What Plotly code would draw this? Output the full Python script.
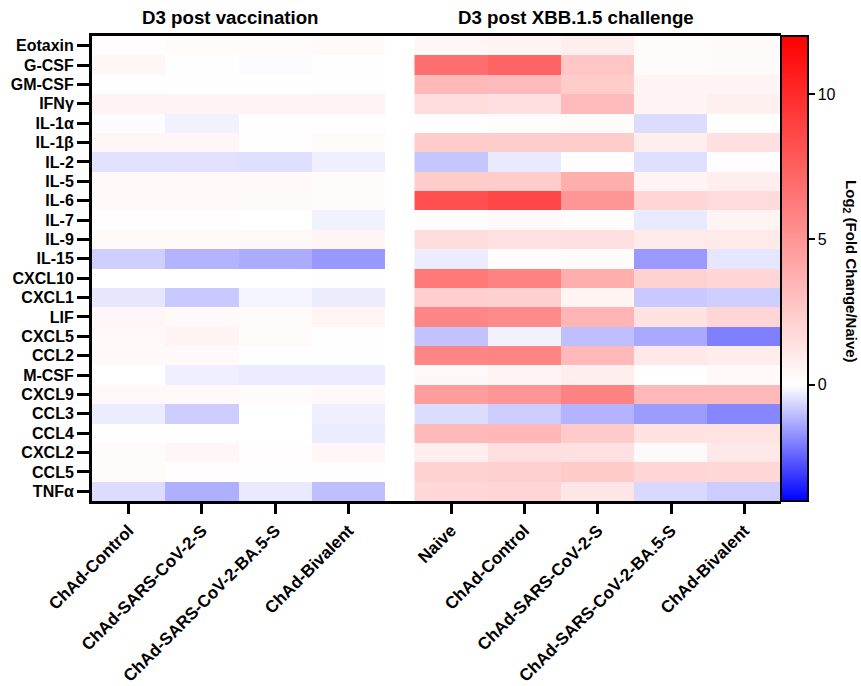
import plotly.graph_objects as go

cytokines = ["Eotaxin", "G-CSF", "GM-CSF", "IFNγ", "IL-1α", "IL-1β", "IL-2", "IL-5", "IL-6",
             "IL-7", "IL-9", "IL-15", "CXCL10", "CXCL1", "LIF", "CXCL5", "CCL2", "M-CSF",
             "CXCL9", "CCL3", "CCL4", "CXCL2", "CCL5", "TNFα"]

vac_groups = ["ChAd-Control", "ChAd-SARS-CoV-2-S", "ChAd-SARS-CoV-2-BA.5-S", "ChAd-Bivalent"]
chal_groups = ["Naive", "ChAd-Control", "ChAd-SARS-CoV-2-S", "ChAd-SARS-CoV-2-BA.5-S", "ChAd-Bivalent"]

# D3 post vaccination (log2 fold change / naive), one list per group, rows in cytokine order
vac_control = [0.1, 0.4, 0.05, 0.5, -0.05, 0.4, -0.45, 0.3, 0.35, 0.1, 0.3, -0.75, 0.0, -0.4,
               0.4, 0.3, 0.3, 0.02, 0.35, -0.3, 0.05, 0.2, 0.2, -0.55]
vac_sars = [0.2, 0.03, 0.02, 0.5, -0.2, 0.4, -0.45, 0.35, 0.35, 0.1, 0.3, -1.2, 0.0, -0.85,
            0.3, 0.5, 0.3, -0.25, 0.3, -0.8, 0.05, 0.4, 0.1, -1.25]
vac_ba5 = [0.2, -0.05, 0.0, 0.5, 0.05, 0.1, -0.5, 0.3, 0.25, 0.0, 0.35, -1.3, 0.0, -0.15,
           0.2, 0.2, 0.05, -0.3, 0.2, 0.0, 0.0, 0.1, 0.05, -0.35]
vac_biv = [0.25, 0.05, 0.05, 0.5, 0.05, 0.2, -0.25, 0.2, 0.2, -0.2, 0.45, -1.6, 0.05, -0.3,
           0.45, 0.05, 0.05, -0.3, 0.35, -0.25, -0.3, 0.4, 0.05, -1.0]

# D3 post XBB.1.5 challenge
chal_naive = [0.4, 6.8, 3.3, 1.6, 0.1, 2.4, -0.9, 2.4, 8.3, 0.1, 1.6, -0.3, 6.3, 2.3, 5.7,
              -0.95, 5.7, 0.35, 4.6, -0.55, 3.3, 0.8, 2.1, 1.9]
chal_control = [0.5, 7.3, 3.2, 1.5, 0.15, 2.4, -0.35, 2.4, 8.7, 0.3, 1.4, 0.15, 5.9, 2.2, 5.5,
                -0.2, 5.8, 0.5, 5.0, -0.8, 3.4, 1.5, 2.2, 2.0]
chal_sars = [0.8, 2.7, 2.4, 3.2, 0.2, 2.4, 0.1, 3.8, 5.0, 0.15, 1.5, 0.2, 3.8, 0.5, 3.5,
             -1.0, 3.3, 0.8, 5.9, -1.2, 2.5, 1.4, 2.5, 1.2]
chal_ba5 = [0.2, 0.2, 0.5, 0.5, -0.55, 0.8, -0.5, 0.5, 2.0, -0.35, 1.0, -1.6, 2.1, -0.85,
            1.3, -1.35, 1.1, 0.05, 3.3, -1.55, 1.3, 0.25, 2.0, -0.6]
chal_biv = [0.25, 0.25, 0.5, 0.7, 0.1, 1.5, 0.1, 0.8, 1.7, 0.5, 1.0, -0.4, 2.0, -0.75, 2.0,
            -2.0, 0.9, 0.3, 3.3, -1.9, 1.3, 1.1, 1.9, -0.8]

cbar_ticks = [0, 5, 10]
zmin, zmax = -4, 12

vac_cols = [vac_control, vac_sars, vac_ba5, vac_biv]
chal_cols = [chal_naive, chal_control, chal_sars, chal_ba5, chal_biv]

def to_rows(cols):
    return [[c[i] for c in cols] for i in range(len(cytokines))]

GAP = 0.4
vac_x = [i for i in range(len(vac_groups))]
chal_x = [len(vac_groups) + GAP + i for i in range(len(chal_groups))]

FONT = "Liberation Sans, Arial, sans-serif"

fig = go.Figure()
fig.add_trace(go.Heatmap(z=to_rows(vac_cols), x=vac_x, y=cytokines, coloraxis="coloraxis",
                         xgap=0, ygap=0))
fig.add_trace(go.Heatmap(z=to_rows(chal_cols), x=chal_x, y=cytokines, coloraxis="coloraxis",
                         xgap=0, ygap=0))

# inner tick marks on the colour bar (left edge), placed on the colour scale
inner_ticks = [
    dict(type="line", xref="paper", yref="paper",
         x0=1.0015, x1=1.0095,
         y0=(v - zmin) / (zmax - zmin), y1=(v - zmin) / (zmax - zmin),
         line=dict(color="black", width=2), layer="above")
    for v in cbar_ticks
]

fig.update_layout(
    width=861, height=686,
    margin=dict(l=92, r=80, t=36, b=185, autoexpand=False),
    paper_bgcolor="white", plot_bgcolor="white",
    font=dict(family=FONT, color="black"),
    coloraxis=dict(
        cmin=zmin, cmax=zmax,
        colorscale=[[0, "rgb(0,0,255)"], [(0 - zmin) / (zmax - zmin), "rgb(255,255,255)"],
                    [1, "rgb(255,0,0)"]],
        colorbar=dict(
            x=1.0, xanchor="left", xpad=0, y=0.5, yanchor="middle", ypad=0,
            len=1, lenmode="fraction", thickness=27,
            outlinewidth=2, outlinecolor="black",
            tickmode="array", tickvals=cbar_ticks,
            ticks="outside", ticklen=6, tickwidth=2, tickcolor="black",
            tickfont=dict(size=16, family=FONT, color="black"),
        ),
    ),
    xaxis=dict(
        range=[-0.5, len(vac_groups) + GAP + len(chal_groups) - 0.5],
        tickmode="array", tickvals=vac_x + chal_x,
        ticktext=vac_groups + chal_groups,
        tickangle=-45, automargin=False,
        tickfont=dict(size=17, family=FONT, weight="bold"),
        ticks="outside", ticklen=10, tickwidth=3, tickcolor="black",
        showline=True, linewidth=3, linecolor="black", mirror=True,
        showgrid=False, zeroline=False,
    ),
    yaxis=dict(
        type="category", categoryorder="array", categoryarray=cytokines,
        tickmode="array", tickvals=cytokines, ticktext=cytokines,
        autorange="reversed", automargin=False,
        tickfont=dict(size=16, family=FONT, weight="bold"),
        ticks="outside", ticklen=12, tickwidth=3, tickcolor="black",
        showline=True, linewidth=3, linecolor="black",
        showgrid=False, zeroline=False,
    ),
    shapes=inner_ticks,
    annotations=[
        dict(text="<b>D3 post vaccination</b>", xref="paper", yref="paper",
             x=0.2015, y=1.04, xanchor="center", yanchor="middle", showarrow=False,
             font=dict(size=18.7, family=FONT)),
        dict(text="<b>D3 post XBB.1.5 challenge</b>", xref="paper", yref="paper",
             x=0.7025, y=1.04, xanchor="center", yanchor="middle", showarrow=False,
             font=dict(size=18.7, family=FONT)),
        dict(text="<b>Log<sub>2</sub> (Fold Change/Naive)</b>", xref="paper", yref="paper",
             x=1.100, y=0.4925, xanchor="center", yanchor="middle", showarrow=False,
             textangle=90, font=dict(size=15, family=FONT)),
    ],
)

fig.write_html("out.html", config={"displayModeBar": False},
               post_script="document.body.style.margin='0';")
